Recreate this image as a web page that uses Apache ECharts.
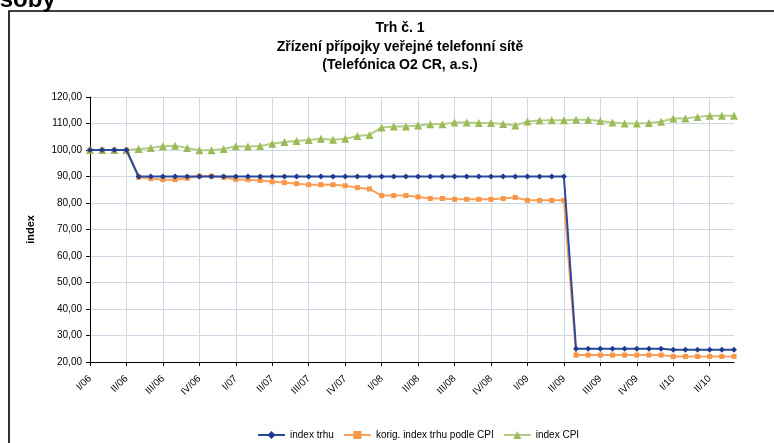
<!DOCTYPE html>
<html>
<head>
<meta charset="utf-8">
<script src="https://cdn.jsdelivr.net/npm/echarts@6/dist/echarts.min.js"></script>
<style>
html,body{margin:0;padding:0;background:#fff;}
#chart{width:774px;height:443px;}
</style>
</head>
<body>
<div id="chart"></div>
<script>
const categories = [
  '1/06','2/06','3/06','4/06','5/06','6/06','7/06','8/06','9/06','10/06','11/06','12/06',
  '1/07','2/07','3/07','4/07','5/07','6/07','7/07','8/07','9/07','10/07','11/07','12/07',
  '1/08','2/08','3/08','4/08','5/08','6/08','7/08','8/08','9/08','10/08','11/08','12/08',
  '1/09','2/09','3/09','4/09','5/09','6/09','7/09','8/09','9/09','10/09','11/09','12/09',
  '1/10','2/10','3/10','4/10','5/10','6/10'
];
const tickLabels = [
  'I/06','II/06','III/06','IV/06','I/07','II/07','III/07','IV/07',
  'I/08','II/08','III/08','IV/08','I/09','II/09','III/09','IV/09',
  'I/10','II/10'
];
const indexTrhu = [
  100,100,100,100,90,90,90,90,90,90,90,90,
  90,90,90,90,90,90,90,90,90,90,90,90,
  90,90,90,90,90,90,90,90,90,90,90,90,
  90,90,90,90,25,25,25,25,25,25,25,25,
  24.6,24.6,24.6,24.6,24.6,24.6
];
const korigIndex = [
  100,100,100,100,89.7,89.2,88.8,88.8,89.3,90.2,90.1,89.7,
  88.9,88.8,88.5,88.0,87.7,87.3,86.9,86.9,86.9,86.5,85.8,85.3,
  82.8,82.8,82.8,82.3,81.7,81.7,81.4,81.4,81.4,81.4,81.7,82.1,
  81.0,81.0,81.0,81.0,22.6,22.6,22.6,22.6,22.6,22.6,22.6,22.6,
  22.1,22.1,22.1,22.1,22.1,22.1
];
const indexCPI = [
  100,100,100,100,100.4,100.8,101.4,101.6,100.8,99.9,99.9,100.4,
  101.4,101.3,101.5,102.4,103.0,103.4,103.8,104.2,103.9,104.2,105.3,105.7,
  108.5,108.9,108.9,109.2,109.7,109.7,110.4,110.4,110.2,110.2,109.8,109.2,
  110.8,111.1,111.2,111.2,111.4,111.4,110.9,110.4,110.0,110.0,110.2,110.7,
  111.9,111.9,112.5,112.9,112.9,112.9
];
const seriesNames = ['index trhu','korig. index trhu podle CPI','index CPI'];
const titleLines = ['Trh č. 1','Zřízení přípojky veřejné telefonní sítě','(Telefónica O2 CR, a.s.)'];

const FONT = "'Liberation Sans', Arial, sans-serif";
const gridColor = '#cfd7e3';

const chart = echarts.init(document.getElementById('chart'), null, {renderer:'canvas'});
chart.setOption({
  animation: false,
  backgroundColor: '#fff',
  textStyle: {fontFamily: FONT},
  graphic: [
    {type:'rect', shape:{x:9, y:11, width:900, height:600}, style:{fill:'none', stroke:'#000', lineWidth:1.6}, z:0},
    {type:'text', style:{text:'osoby', x:-15, y:12, verticalAlign:'bottom', font:"bold 24px 'Liberation Sans', Arial, sans-serif", fill:'#000'}}
  ],
  title: {
    text: titleLines.join('\n'),
    left: 400, top: 19, padding: 0, textAlign: 'center',
    textStyle: {fontSize: 14, fontWeight: 'bold', color: '#000', lineHeight: 18.5, fontFamily: FONT}
  },
  legend: {
    left: 252, top: 425,
    itemWidth: 27, itemHeight: 10, itemGap: 9,
    textStyle: {fontSize: 10, color: '#000', fontFamily: FONT},
    data: seriesNames
  },
  grid: {left: 90, right: 40, top: 97, bottom: 81, containLabel: false},
  xAxis: {
    type: 'category',
    data: categories,
    boundaryGap: false,
    axisLine: {lineStyle: {color: '#000', width: 1}},
    axisTick: {show: true, interval: 2, length: 4, lineStyle: {color: '#000'}},
    splitLine: {show: true, interval: 2, lineStyle: {color: gridColor, width: 1}},
    axisLabel: {
      interval: 2, rotate: 45, margin: 15, fontSize: 10, color: '#000', fontFamily: FONT,
      formatter: (v, i) => tickLabels[Math.round(i / 3)] || ''
    }
  },
  yAxis: {
    type: 'value', min: 20, max: 120, interval: 10,
    name: 'index', nameLocation: 'middle', nameGap: 54, nameRotate: 90,
    nameTextStyle: {fontSize: 11, fontWeight: 'bold', color: '#000', fontFamily: FONT},
    axisLine: {show: true, lineStyle: {color: '#000', width: 1}},
    axisTick: {show: true, length: 4, lineStyle: {color: '#000'}},
    splitLine: {show: true, lineStyle: {color: gridColor, width: 1}},
    axisLabel: {fontSize: 10, color: '#000', margin: 8, fontFamily: FONT,
      formatter: v => v.toFixed(2).replace('.', ',')}
  },
  series: [
    {
      name: seriesNames[0], type: 'line', data: indexTrhu,
      symbol: 'diamond', symbolSize: 6, z: 4, showAllSymbol: true,
      itemStyle: {color: '#1d3c8f'}, lineStyle: {color: '#2a4a9a', width: 2}
    },
    {
      name: seriesNames[1], type: 'line', data: korigIndex,
      symbol: 'rect', symbolSize: 5, z: 3, showAllSymbol: true,
      itemStyle: {color: '#f79646'}, lineStyle: {color: '#f7a15e', width: 2}
    },
    {
      name: seriesNames[2], type: 'line', data: indexCPI,
      symbol: 'triangle', symbolSize: 8, z: 2, showAllSymbol: true,
      itemStyle: {color: '#9bbb59'}, lineStyle: {color: '#b4cc85', width: 2}
    }
  ]
});
</script>
</body>
</html>
